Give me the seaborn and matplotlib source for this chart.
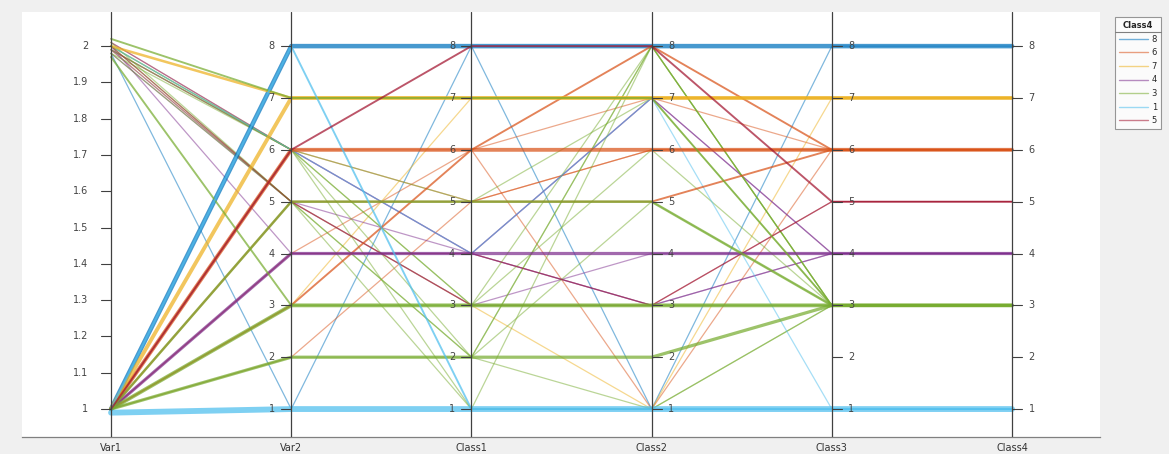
import numpy as np
import pandas as pd
import matplotlib
matplotlib.use("Agg")
import matplotlib.pyplot as plt
import seaborn as sns
from matplotlib.lines import Line2D

# Parallel-coordinates data: one entry per polyline, "count" = how many
# identical observations share that path (drawn as a thicker line).
columns = ["Var1", "Var2", "Class1", "Class2", "Class3", "Class4"]

var1   = [1.00, 1.98,
          1.00, 1.00, 1.00, 2.01, 1.00, 1.99, 1.00,
          1.00, 2.00, 1.99, 1.00,
          1.00, 1.98, 2.00, 1.99, 2.01, 1.99,
          1.00, 1.00, 1.00, 2.02, 1.97, 1.99, 2.00, 1.00, 2.01, 1.98, 1.00,
          2.00, 1.98, 2.00,
          0.99, 1.00, 2.00,
          1.00, 1.00, 2.00]
var2   = [8, 1,
          6, 3, 4, 6, 5, 6, 2,
          7, 7, 5, 3,
          4, 5, 4, 6, 6, 5,
          3, 2, 5, 7, 3, 6, 5, 6, 5, 6, 2,
          6, 5, 6,
          1, 8, 6,
          6, 4, 5]
class1 = [8, 8,
          6, 6, 6, 6, 5, 5, 5,
          7, 7, 3, 7,
          4, 4, 4, 4, 4, 3,
          3, 2, 5, 7, 3, 3, 2, 2, 1, 5, 2,
          3, 2, 1,
          1, 1, 4,
          8, 4, 3]
class2 = [8, 1,
          6, 8, 1, 7, 5, 6, 6,
          7, 7, 1, 7,
          4, 3, 7, 3, 7, 4,
          3, 2, 5, 7, 3, 6, 8, 1, 1, 7, 8,
          8, 5, 8,
          1, 1, 7,
          8, 3, 3]
class3 = [8, 8,
          6, 6, 6, 6, 6, 6, 6,
          7, 7, 7, 7,
          4, 4, 4, 4, 4, 4,
          3, 3, 3, 3, 3, 3, 3, 3, 3, 3, 3,
          3, 3, 3,
          1, 1, 1,
          5, 5, 5]
class4 = [8, 8,
          6, 6, 6, 6, 6, 6, 6,
          7, 7, 7, 7,
          4, 4, 4, 4, 4, 4,
          3, 3, 3, 3, 3, 3, 3, 3, 3, 3, 3,
          3, 3, 3,
          1, 1, 1,
          5, 5, 5]
counts = [6, 1,
          5, 2, 1, 1, 2, 1, 1,
          5, 3, 1, 1,
          4, 1, 1, 1, 1, 1,
          5, 4, 3, 2, 2, 1, 1, 1, 1, 1, 1,
          1, 1, 1,
          8, 2, 1,
          2, 1, 1]

group_order = ["8", "6", "7", "4", "3", "1", "5"]
group_colors = ["#0072BD", "#D95319", "#EDB120", "#7E2F8E",
                "#77AC30", "#4DBEEE", "#A2142F"]

var1_ticks = [1.0, 1.1, 1.2, 1.3, 1.4, 1.5, 1.6, 1.7, 1.8, 1.9, 2.0]
var1_tick_labels = ["1", "1.1", "1.2", "1.3", "1.4", "1.5", "1.6",
                    "1.7", "1.8", "1.9", "2"]
class_ticks = [1, 2, 3, 4, 5, 6, 7, 8]

# per-axis ranges used to scale every coordinate onto a shared [0, 1] height
axis_min = {"Var1": 1.0, "Var2": 1, "Class1": 1, "Class2": 1, "Class3": 1, "Class4": 1}
axis_max = {"Var1": 2.0, "Var2": 8, "Class1": 8, "Class2": 8, "Class3": 8, "Class4": 8}


def scale(v, a):
    return (v - axis_min[a]) / (axis_max[a] - axis_min[a])


wide = pd.DataFrame({"Var1": var1, "Var2": var2, "Class1": class1,
                     "Class2": class2, "Class3": class3, "Class4": class4})
wide["count"] = counts
wide["group"] = wide["Class4"].astype(str)
wide["row"] = np.arange(len(wide))

long = wide.melt(id_vars=["row", "group", "count"], value_vars=columns,
                 var_name="axis", value_name="value")
long["pos"] = long["axis"].map({c: i for i, c in enumerate(columns)})
long["scaled"] = [scale(v, a) for v, a in zip(long["value"], long["axis"])]
long = long.sort_values(["row", "pos"])

sns.set_theme(style="white")
plt.rcParams["font.family"] = ["DejaVu Sans"]

fig = plt.figure(figsize=(11.69, 4.54), dpi=100, facecolor="#F0F0F0")
ax = fig.add_axes([22 / 1169, 17 / 454, 1078 / 1169, 425 / 454])
ax.set_facecolor("white")

# single observations are drawn fainter, shared paths stronger
for subset, alpha in [(long[long["count"] == 1], 0.5),
                      (long[long["count"] > 1], 0.72)]:
    sns.lineplot(data=subset, x="pos", y="scaled", hue="group",
                 hue_order=group_order, palette=group_colors, units="row",
                 estimator=None, sort=False, size="count", sizes=(0.9, 4.2),
                 size_norm=(1, 8), alpha=alpha, legend=False, ax=ax)

ax.set_xlim(-0.494, 5.488)
ax.set_ylim(-0.077, 1.094)

# vertical coordinate axes with their own tick marks
label_side = {"Var1": -1, "Var2": -1, "Class1": -1,
              "Class2": 1, "Class3": 1, "Class4": 1}
tick_len = 0.056
for i, col in enumerate(columns):
    ax.axvline(i, color="#404040", lw=0.9, zorder=5)
    side = label_side[col]
    if col == "Var1":
        ticks, labels = var1_ticks, var1_tick_labels
        gap = 0.07
    else:
        ticks, labels = class_ticks, [str(t) for t in class_ticks]
        gap = 0.035
    for t, lab in zip(ticks, labels):
        y = scale(t, col)
        ax.plot([i, i + side * tick_len], [y, y], color="#404040", lw=0.8, zorder=6)
        ax.text(i + side * (tick_len + gap), y, lab,
                ha="left" if side > 0 else "right", va="center",
                fontsize=7, color="#444444", zorder=6)

ax.set_xticks(range(len(columns)))
ax.set_xticklabels(columns, fontsize=7, color="#333333")
ax.tick_params(axis="x", length=0, pad=4)
ax.set_yticks([])
ax.set_xlabel("")
ax.set_ylabel("")
for s in ["top", "left", "right"]:
    ax.spines[s].set_visible(False)
ax.spines["bottom"].set_color("#808080")
ax.spines["bottom"].set_linewidth(0.9)

handles = [Line2D([0], [0], color=c, lw=1.0, alpha=0.55) for c in group_colors]
leg = fig.legend(handles, group_order, title="Class4", loc="upper left",
                 bbox_to_anchor=(1115 / 1169, 1 - 17 / 454), fontsize=6,
                 title_fontsize=6, frameon=True, fancybox=False,
                 handlelength=3.4, handletextpad=0.5, labelspacing=0.55,
                 borderpad=0.5, borderaxespad=0)
leg.get_frame().set_edgecolor("#7f7f7f")
leg.get_frame().set_linewidth(0.8)
leg.get_frame().set_facecolor("white")
leg.get_title().set_fontweight("bold")

# thin rule under the legend title
fig.canvas.draw()
inv = fig.transFigure.inverted()
bb = leg.get_window_extent().transformed(inv)
tb = leg.get_title().get_window_extent().transformed(inv)
sep_y = tb.y0 - 2 / 454
fig.add_artist(Line2D([bb.x0, bb.x1], [sep_y, sep_y], color="#7f7f7f",
                      lw=0.8, zorder=20))

fig.savefig("out.png", dpi=100, facecolor=fig.get_facecolor())
